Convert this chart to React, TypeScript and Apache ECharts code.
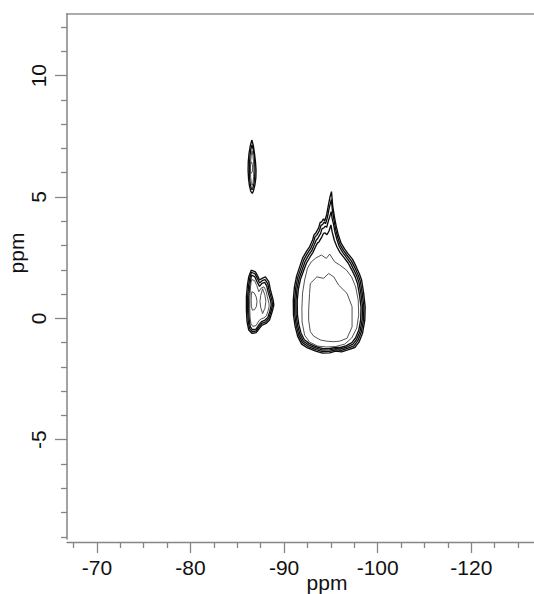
import { useEffect, useRef } from "react";
import * as echarts from "echarts";

type Pt = [number, number];

// Axis ticks (ppm)
const xMajorTicks = [-70, -80, -90, -100, -110];
const xTickLabels = ["-70", "-80", "-90", "-100", "-120"];
const xMinorTicks = [-67.5, -72.5, -75, -77.5, -82.5, -85, -87.5, -92.5, -95, -97.5, -102.5, -105, -107.5, -112.5, -115];
const yMajorTicks = [10, 5, 0, -5];
const yMinorTicks = [12, 11, 9, 8, 7, 6, 4, 3, 2, 1, -1, -2, -3, -4, -6, -7, -8, -9];

// Small cross peak near (-86.6, 6.2): outer to inner contour levels
const peakTopContours: Pt[][] = [
  [[-86.55, 7.35], [-86.72, 7.1], [-86.85, 6.75], [-86.95, 6.4], [-87.0, 6.1], [-86.98, 5.8], [-86.88, 5.5], [-86.72, 5.25], [-86.6, 5.15], [-86.45, 5.22], [-86.3, 5.45], [-86.2, 5.75], [-86.15, 6.1], [-86.17, 6.45], [-86.25, 6.8], [-86.38, 7.1], [-86.55, 7.35]],
  [[-86.56, 7.15], [-86.7, 6.95], [-86.8, 6.7], [-86.86, 6.4], [-86.88, 6.1], [-86.85, 5.8], [-86.77, 5.55], [-86.65, 5.35], [-86.58, 5.3], [-86.48, 5.36], [-86.38, 5.55], [-86.31, 5.8], [-86.28, 6.1], [-86.3, 6.42], [-86.36, 6.72], [-86.45, 6.97], [-86.56, 7.15]],
  [[-86.57, 6.9], [-86.67, 6.7], [-86.73, 6.45], [-86.76, 6.15], [-86.74, 5.85], [-86.68, 5.6], [-86.6, 5.48], [-86.5, 5.55], [-86.43, 5.8], [-86.4, 6.15], [-86.42, 6.45], [-86.48, 6.7], [-86.57, 6.9]],
  [[-86.5, 6.45], [-86.6, 6.35], [-86.63, 6.2], [-86.6, 6.05], [-86.5, 5.98], [-86.42, 6.05], [-86.39, 6.2], [-86.42, 6.35], [-86.5, 6.45]],
];

// Doublet near (-87.2, 0.7)
const peakLeftContours: Pt[][] = [
  [[-86.5, 1.99], [-86.93, 1.92], [-87.22, 1.71], [-87.36, 1.58], [-87.65, 1.65], [-88.0, 1.71], [-88.36, 1.51], [-88.54, 1.17], [-88.83, 0.75], [-88.9, 0.55], [-88.72, 0.27], [-88.44, -0.07], [-88.08, -0.21], [-87.65, -0.28], [-87.36, -0.41], [-87.01, -0.59], [-86.58, -0.62], [-86.22, -0.48], [-86.04, -0.14], [-85.97, 0.34], [-85.97, 0.89], [-86.08, 1.37], [-86.22, 1.71], [-86.5, 1.99]],
  [[-86.5, 1.9], [-86.9, 1.83], [-87.18, 1.62], [-87.37, 1.46], [-87.65, 1.55], [-87.97, 1.6], [-88.25, 1.43], [-88.42, 1.12], [-88.7, 0.74], [-88.76, 0.55], [-88.6, 0.28], [-88.35, -0.01], [-88.02, -0.14], [-87.62, -0.21], [-87.34, -0.34], [-87.0, -0.52], [-86.6, -0.55], [-86.3, -0.41], [-86.16, -0.1], [-86.1, 0.34], [-86.1, 0.88], [-86.2, 1.34], [-86.32, 1.65], [-86.5, 1.9]],
  [[-86.52, 1.78], [-86.86, 1.72], [-87.12, 1.5], [-87.37, 1.32], [-87.63, 1.44], [-87.93, 1.48], [-88.14, 1.34], [-88.3, 1.07], [-88.56, 0.72], [-88.62, 0.55], [-88.48, 0.3], [-88.26, 0.04], [-87.96, -0.07], [-87.6, -0.13], [-87.32, -0.26], [-87.0, -0.44], [-86.62, -0.47], [-86.38, -0.34], [-86.27, -0.06], [-86.22, 0.34], [-86.22, 0.87], [-86.32, 1.3], [-86.42, 1.58], [-86.52, 1.78]],
  [[-86.55, 1.6], [-86.85, 1.55], [-87.08, 1.35], [-87.3, 1.1], [-87.55, 1.25], [-87.85, 1.3], [-88.05, 1.15], [-88.2, 0.9], [-88.38, 0.62], [-88.4, 0.5], [-88.28, 0.3], [-88.1, 0.1], [-87.85, 0.02], [-87.55, -0.02], [-87.3, -0.1], [-87.0, -0.3], [-86.65, -0.33], [-86.45, -0.2], [-86.36, 0.05], [-86.33, 0.4], [-86.34, 0.85], [-86.4, 1.25], [-86.47, 1.48], [-86.55, 1.6]],
  [[-86.55, 1.1], [-86.8, 1.05], [-87.02, 0.88], [-87.1, 0.7], [-87.05, 0.5], [-86.85, 0.36], [-86.6, 0.34], [-86.5, 0.5], [-86.48, 0.75], [-86.5, 0.95], [-86.55, 1.1]],
  [[-87.7, 1.22], [-87.95, 0.95], [-88.05, 0.7], [-87.95, 0.42], [-87.7, 0.2], [-87.5, 0.45], [-87.42, 0.7], [-87.5, 0.95], [-87.7, 1.22]],
];

// Main peak near (-95, 0.3) with its ridge toward (-95, 5.2)
const peakMainContours: Pt[][] = [
  [[-95.06, 5.22], [-95.2, 4.6], [-95.4, 4.13], [-95.58, 3.77], [-95.83, 3.39], [-96.1, 3.09], [-96.46, 2.86], [-96.8, 2.68], [-97.3, 2.44], [-97.7, 2.13], [-98.05, 1.83], [-98.28, 1.58], [-98.5, 1.03], [-98.66, 0.48], [-98.62, -0.07], [-98.38, -0.61], [-98.0, -0.98], [-97.55, -1.2], [-96.8, -1.3], [-96.15, -1.38], [-95.5, -1.35], [-94.87, -1.42], [-94.1, -1.43], [-93.37, -1.35], [-92.5, -1.22], [-91.87, -1.06], [-91.44, -0.73], [-91.17, -0.32], [-91.0, 0.14], [-90.98, 0.75], [-91.1, 1.29], [-91.33, 1.74], [-91.65, 2.11], [-91.97, 2.48], [-92.4, 2.77], [-92.72, 2.95], [-93.04, 3.23], [-93.2, 3.45], [-93.37, 3.51], [-93.68, 3.72], [-93.85, 3.95], [-94.0, 3.97], [-94.2, 4.1], [-94.33, 4.01], [-94.54, 4.26], [-94.75, 4.71], [-94.9, 5.0], [-95.06, 5.22]],
  [[-95.05, 4.9], [-95.16, 4.45], [-95.34, 4.03], [-95.5, 3.68], [-95.74, 3.32], [-96.0, 3.02], [-96.36, 2.79], [-96.7, 2.61], [-97.18, 2.37], [-97.58, 2.07], [-97.92, 1.78], [-98.14, 1.53], [-98.36, 1.0], [-98.52, 0.47], [-98.48, -0.06], [-98.25, -0.56], [-97.88, -0.92], [-97.46, -1.13], [-96.76, -1.24], [-96.12, -1.32], [-95.5, -1.3], [-94.87, -1.36], [-94.1, -1.37], [-93.4, -1.29], [-92.56, -1.16], [-91.96, -1.0], [-91.56, -0.69], [-91.3, -0.3], [-91.14, 0.14], [-91.12, 0.74], [-91.24, 1.26], [-91.46, 1.69], [-91.78, 2.05], [-92.1, 2.41], [-92.52, 2.7], [-92.84, 2.88], [-93.14, 3.14], [-93.3, 3.35], [-93.48, 3.42], [-93.78, 3.62], [-93.94, 3.83], [-94.1, 3.86], [-94.28, 3.97], [-94.42, 3.9], [-94.62, 4.15], [-94.82, 4.55], [-95.05, 4.9]],
  [[-95.03, 4.4], [-95.14, 4.1], [-95.28, 3.88], [-95.42, 3.58], [-95.64, 3.25], [-95.9, 2.95], [-96.26, 2.72], [-96.6, 2.54], [-97.06, 2.3], [-97.45, 2.0], [-97.78, 1.73], [-98.0, 1.48], [-98.22, 0.98], [-98.38, 0.46], [-98.34, -0.05], [-98.12, -0.52], [-97.76, -0.86], [-97.36, -1.06], [-96.72, -1.18], [-96.08, -1.26], [-95.5, -1.25], [-94.87, -1.3], [-94.12, -1.31], [-93.43, -1.23], [-92.63, -1.1], [-92.06, -0.94], [-91.68, -0.65], [-91.43, -0.28], [-91.28, 0.15], [-91.26, 0.73], [-91.38, 1.23], [-91.6, 1.64], [-91.92, 1.99], [-92.24, 2.34], [-92.64, 2.62], [-92.96, 2.8], [-93.25, 3.05], [-93.42, 3.22], [-93.6, 3.3], [-93.9, 3.5], [-94.05, 3.7], [-94.22, 3.72], [-94.4, 3.8], [-94.55, 3.75], [-94.72, 4.0], [-94.88, 4.2], [-95.03, 4.4]],
  [[-95.0, 3.85], [-95.14, 3.55], [-95.36, 3.22], [-95.66, 2.93], [-96.0, 2.7], [-96.36, 2.52], [-96.84, 2.28], [-97.24, 1.99], [-97.6, 1.7], [-97.84, 1.44], [-98.06, 0.96], [-98.22, 0.46], [-98.18, -0.05], [-97.98, -0.48], [-97.64, -0.8], [-97.24, -1.0], [-96.66, -1.12], [-96.04, -1.2], [-95.5, -1.2], [-94.87, -1.24], [-94.14, -1.25], [-93.46, -1.17], [-92.7, -1.04], [-92.16, -0.88], [-91.8, -0.6], [-91.57, -0.25], [-91.42, 0.16], [-91.4, 0.73], [-91.52, 1.2], [-91.74, 1.6], [-92.06, 1.94], [-92.38, 2.27], [-92.78, 2.54], [-93.08, 2.72], [-93.36, 2.95], [-93.55, 3.1], [-93.72, 3.15], [-94.02, 3.35], [-94.2, 3.5], [-94.38, 3.52], [-94.58, 3.45], [-94.8, 3.6], [-95.0, 3.85]],
  [[-92.9, 2.33], [-93.37, 2.48], [-93.98, 2.61], [-94.51, 2.47], [-94.87, 2.65], [-95.4, 2.33], [-95.94, 2.2], [-96.66, 1.99], [-97.22, 1.7], [-97.65, 1.29], [-97.92, 0.75], [-97.97, 0.14], [-97.76, -0.4], [-97.22, -0.81], [-96.47, -1.06], [-95.51, -1.16], [-94.54, -1.18], [-93.58, -1.14], [-92.72, -0.98], [-92.19, -0.69], [-91.92, -0.15], [-91.9, 0.42], [-91.97, 1.04], [-92.19, 1.58], [-92.5, 2.07], [-92.9, 2.33]],
  [[-92.8, 1.44], [-93.5, 1.71], [-94.22, 1.65], [-94.76, 1.85], [-95.3, 1.71], [-95.83, 1.37], [-96.72, 1.03], [-97.26, 0.48], [-97.26, -0.35], [-96.72, -0.82], [-95.94, -0.94], [-95.3, -0.96], [-94.55, -0.94], [-93.87, -0.89], [-93.15, -0.73], [-92.8, -0.55], [-92.62, -0.07], [-92.62, 0.34], [-92.72, 1.03], [-92.8, 1.44]],
];

const FONT = "'Liberation Sans', Arial, Helvetica, sans-serif";
const AXIS_GRAY = "#858585";
const X_LOW = -116.7;
const X_HIGH = -66.8;
const Y_MIN = -9.09;
const Y_MAX = 12.54;

function contourSeries(contours: Pt[][], outerCount: number) {
  return contours.map((c, i) => ({
    type: "line" as const,
    data: c,
    xAxisIndex: 0,
    yAxisIndex: 0,
    symbol: "none",
    showSymbol: false,
    silent: true,
    smooth: false,
    lineStyle: {
      color: i < outerCount ? "#0d0d0d" : "#404040",
      width: i < outerCount ? 1.35 : 0.9,
    },
  }));
}

export default function App() {
  const ref = useRef<HTMLDivElement>(null);

  useEffect(() => {
    if (!ref.current) return;
    const chart = echarts.init(ref.current, undefined, { renderer: "svg" });

    const xBase = {
      type: "value" as const,
      min: X_LOW,
      max: X_HIGH,
      inverse: true,
      position: "bottom" as const,
      offset: 3,
      splitLine: { show: false },
    };
    const yBase = {
      type: "value" as const,
      min: Y_MIN,
      max: Y_MAX,
      position: "left" as const,
      splitLine: { show: false },
    };

    chart.setOption({
      animation: false,
      backgroundColor: "#fff",
      grid: { left: 67, right: 0, top: 14, bottom: 55, containLabel: false },
      xAxis: [
        {
          ...xBase,
          axisLine: { show: true, onZero: false, lineStyle: { color: AXIS_GRAY, width: 1.3 } },
          axisTick: {
            show: true,
            customValues: xMajorTicks,
            length: 11,
            lineStyle: { color: AXIS_GRAY, width: 1.3 },
          },
          axisLabel: {
            show: true,
            customValues: xMajorTicks,
            margin: 15,
            fontSize: 21,
            fontFamily: FONT,
            color: "#111",
            formatter: (v: number) => {
              const i = xMajorTicks.indexOf(v);
              return i >= 0 ? xTickLabels[i] : "";
            },
          },
        },
        {
          ...xBase,
          axisLine: { show: false, onZero: false },
          axisTick: {
            show: true,
            customValues: xMinorTicks,
            length: 6,
            lineStyle: { color: AXIS_GRAY, width: 1.3 },
          },
          axisLabel: { show: false },
        },
      ],
      yAxis: [
        {
          ...yBase,
          axisLine: { show: true, onZero: false, lineStyle: { color: AXIS_GRAY, width: 1.5 } },
          axisTick: {
            show: true,
            customValues: yMajorTicks,
            length: 12,
            lineStyle: { color: AXIS_GRAY, width: 1.3 },
          },
          axisLabel: {
            show: true,
            customValues: yMajorTicks,
            rotate: 90,
            margin: 18,
            fontSize: 21,
            fontFamily: FONT,
            color: "#111",
            formatter: (v: number) => String(v),
          },
        },
        {
          ...yBase,
          axisLine: { show: false, onZero: false },
          axisTick: {
            show: true,
            customValues: yMinorTicks,
            length: 6,
            lineStyle: { color: AXIS_GRAY, width: 1.3 },
          },
          axisLabel: { show: false },
        },
      ],
      graphic: [
        {
          type: "line",
          shape: { x1: 66, y1: 14, x2: 534, y2: 14 },
          style: { stroke: "#5a5a5a", lineWidth: 1.2 },
          silent: true,
        },
        {
          type: "text",
          x: 16,
          y: 253,
          rotation: Math.PI / 2,
          style: {
            text: "ppm",
            font: `21px ${FONT}`,
            fill: "#111",
            textAlign: "center",
            textVerticalAlign: "middle",
          },
          silent: true,
        },
        {
          type: "text",
          x: 327,
          y: 582,
          style: {
            text: "ppm",
            font: `21px ${FONT}`,
            fill: "#111",
            textAlign: "center",
            textVerticalAlign: "middle",
          },
          silent: true,
        },
      ],
      series: [
        ...contourSeries(peakTopContours, 2),
        ...contourSeries(peakLeftContours, 3),
        ...contourSeries(peakMainContours, 4),
      ],
    });

    return () => chart.dispose();
  }, []);

  return (
    <div
      ref={ref}
      style={{ position: "absolute", left: 0, top: 0, width: 534, height: 594, background: "#fff" }}
    />
  );
}
